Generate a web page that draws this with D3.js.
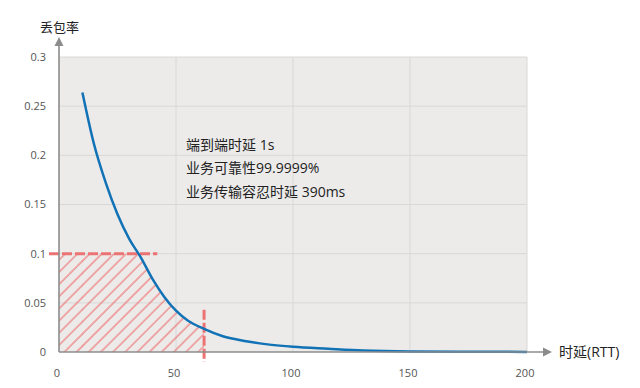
<!DOCTYPE html>
<html><head><meta charset="utf-8">
<script src="https://cdn.jsdelivr.net/npm/d3@7"></script>
<style>
html,body{margin:0;padding:0;background:#fff;}
text{font-family:"Open Sans","Noto Sans CJK SC","Noto Sans",sans-serif;}
</style></head>
<body><svg id="chart" width="640" height="388"></svg>
<script>
// ---- data ----
const rtt = [10, 15, 20, 25, 30, 35, 40, 45, 50, 55, 62, 70, 80, 90, 100, 115, 130, 150, 175, 200];
const lossRate = [0.264, 0.211, 0.172, 0.140, 0.115, 0.096, 0.074, 0.056, 0.042, 0.032, 0.0235, 0.016, 0.011, 0.0075, 0.0053, 0.0033, 0.0015, 0.0005, 0.0002, 0.0001];
const xTicks = [0, 50, 100, 150, 200];
const yTicks = [0, 0.05, 0.1, 0.15, 0.2, 0.25, 0.3];
const lossThreshold = [0.1];      // horizontal dashed line
const lossLineEnd = [42];         // x where horizontal dashed line ends
const latencyThreshold = [62];    // vertical dashed line
const latencyLineTop = [0.043];
const annotations = ["端到端时延 1s", "业务可靠性99.9999%", "业务传输容忍时延 390ms"];
const yTitle = "丢包率";
const xTitle = "时延(RTT)";

// ---- layout ----
const svg = d3.select("#chart");
const L = 59, R = 527, T = 57, B = 352;
const x = d3.scaleLinear().domain([0, 200]).range([L, R]);
const y = d3.scaleLinear().domain([0, 0.3]).range([B, T]);
const pts = rtt.map((d, i) => [d, lossRate[i]]);

const defs = svg.append("defs");
const pat = defs.append("pattern").attr("id", "hatch").attr("patternUnits", "userSpaceOnUse")
  .attr("width", 8.6).attr("height", 20).attr("patternTransform", "rotate(45)");
pat.append("line").attr("x1", 2).attr("x2", 2).attr("y1", -1).attr("y2", 21)
  .attr("stroke", "#ee6f6f").attr("stroke-width", 1.1);
defs.append("clipPath").attr("id", "hatchClip").append("rect")
  .attr("x", x(0)).attr("y", y(lossThreshold[0]))
  .attr("width", x(latencyThreshold[0]) - x(0)).attr("height", y(0) - y(lossThreshold[0]));

// background
svg.append("rect").attr("x", L).attr("y", T).attr("width", R - L).attr("height", B - T).attr("fill", "#ecebea");

// grid
svg.append("g").selectAll("line").data(yTicks.slice(1)).join("line")
  .attr("x1", L).attr("x2", R).attr("y1", d => y(d)).attr("y2", d => y(d))
  .attr("stroke", "#d8d8d8").attr("stroke-width", 1);
svg.append("g").selectAll("line").data(xTicks.slice(1)).join("line")
  .attr("x1", d => x(d)).attr("x2", d => x(d)).attr("y1", T).attr("y2", B)
  .attr("stroke", "#d8d8d8").attr("stroke-width", 1);

// hatch area
const curveType = d3.curveMonotoneX;
const area = d3.area().x(d => x(d[0])).y0(y(0)).y1(d => y(d[1])).curve(curveType);
const hg = svg.append("g").attr("clip-path", "url(#hatchClip)");
hg.append("path").datum(pts).attr("d", area).attr("fill", "url(#hatch)");
hg.append("rect").attr("x", x(0)).attr("y", y(0.3)).attr("width", x(rtt[0]) - x(0) + 0.5).attr("height", y(0) - y(0.3))
  .attr("fill", "url(#hatch)");

// dashed threshold lines
svg.append("line").attr("x1", x(0) - 10).attr("x2", x(lossLineEnd[0]))
  .attr("y1", y(lossThreshold[0])).attr("y2", y(lossThreshold[0]))
  .attr("stroke", "#ec7373").attr("stroke-width", 3).attr("stroke-dasharray", "10,3");
svg.append("line").attr("x1", x(latencyThreshold[0])).attr("x2", x(latencyThreshold[0]))
  .attr("y1", y(latencyLineTop[0])).attr("y2", y(0) + 10)
  .attr("stroke", "#ec7373").attr("stroke-width", 3).attr("stroke-dasharray", "10,3");

// curve
svg.append("path").datum(pts)
  .attr("d", d3.line().x(d => x(d[0])).y(d => y(d[1])).curve(curveType))
  .attr("fill", "none").attr("stroke", "#1172b6").attr("stroke-width", 2.5);

// axes
const axisColor = "#8c8c8c";
svg.append("line").attr("x1", L).attr("x2", L).attr("y1", B).attr("y2", 44).attr("stroke", axisColor).attr("stroke-width", 1.6);
svg.append("path").attr("d", `M${L - 4.5},46 L${L},37 L${L + 4.5},46 Z`).attr("fill", axisColor);
svg.append("line").attr("x1", L).attr("x2", 545).attr("y1", B).attr("y2", B).attr("stroke", axisColor).attr("stroke-width", 1.6);
svg.append("path").attr("d", `M543,${B - 4.5} L552,${B} L543,${B + 4.5} Z`).attr("fill", axisColor);

// tick labels
svg.append("g").selectAll("text").data(yTicks).join("text")
  .attr("x", 46).attr("y", d => y(d)).attr("dy", "0.35em").attr("text-anchor", "end")
  .attr("font-size", 11).attr("fill", "#555").text(d => d3.format("~g")(d));
svg.append("g").selectAll("text").data(xTicks).join("text")
  .attr("x", d => x(d) - 2).attr("y", 373).attr("dy", "0.35em").attr("text-anchor", "middle")
  .attr("font-size", 11).attr("fill", "#555").text(d => d);

// titles
svg.append("text").attr("x", 59.5).attr("y", 27).attr("dy", "0.35em").attr("text-anchor", "middle")
  .attr("font-size", 13).attr("fill", "#222").text(yTitle);
svg.append("text").attr("x", 559).attr("y", 352).attr("dy", "0.35em").attr("text-anchor", "start")
  .attr("font-size", 14).attr("fill", "#222").text(xTitle);

// annotation text
svg.append("g").selectAll("text").data(annotations).join("text")
  .attr("x", 186).attr("y", (d, i) => 145 + i * 23.5).attr("dy", "0.35em")
  .attr("font-size", 14).attr("fill", "#222").text(d => d);
</script></body></html>
